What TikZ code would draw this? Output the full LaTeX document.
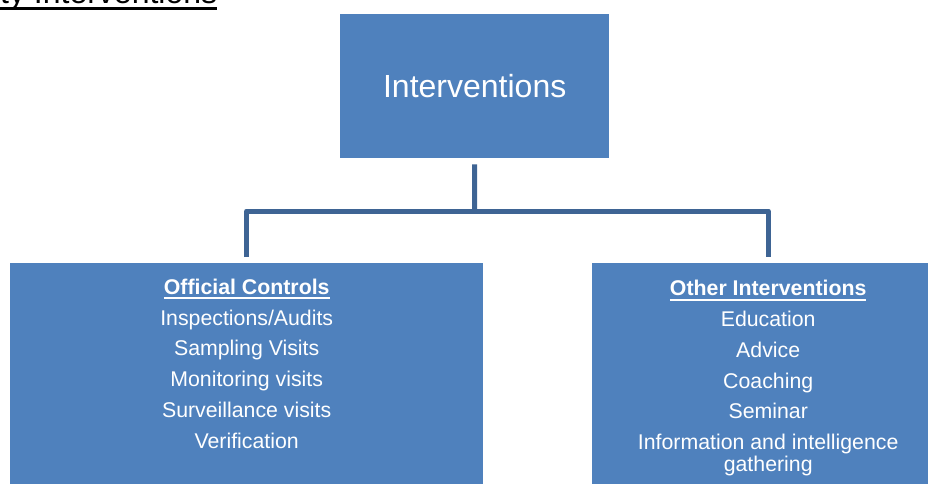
\documentclass[tikz,border=0pt]{standalone}
\usepackage{fontspec}
\setmainfont{Liberation Sans}
\definecolor{boxblue}{RGB}{79,129,189}
\definecolor{connblue}{RGB}{62,100,148}
\newcommand\hdul[1]{\setbox0\hbox{#1}\rlap{\rule[-5pt]{\wd0}{1.8pt}}\box0}
\tikzset{
  bluebox/.style={fill=boxblue, draw=none, inner sep=0pt, anchor=north west},
  boxtext/.style={text=white, inner sep=0pt, anchor=north, align=center,
    font=\fontsize{21.3pt}{30.8pt}\selectfont},
  conn/.style={draw=connblue, line width=5pt, line join=round, line cap=butt}
}
\begin{document}
\begin{tikzpicture}[x=1pt,y=-1pt]
\useasboundingbox (0,0) rectangle (928,483);
\clip (0,0) rectangle (928,483);
% title (cut off at the top)
\node[inner sep=0pt, anchor=base west, font=\fontsize{32pt}{38pt}\selectfont] (title) at (0,3.5) {ty Interventions};
\draw[line width=2.5pt] ([yshift=-5pt]title.base west) -- ([yshift=-5pt]title.base east);
% boxes
\node[bluebox, minimum width=269pt, minimum height=144pt] (top) at (340,14) {};
\node[text=white, inner sep=0pt, font=\fontsize{32pt}{38pt}\selectfont] (toptext) at (top.center) {Interventions};
\node[bluebox, minimum width=473pt, minimum height=230pt] (oc) at (10,263) {};
\node[bluebox, minimum width=352pt, minimum height=230pt] (oi) at (592,263) {};
\node[boxtext] (octext) at ([yshift=-15.6pt]oc.north) {\hdul{\textbf{Official Controls}}\\Inspections/Audits\\Sampling Visits\\Monitoring visits\\Surveillance visits\\Verification};
\node[boxtext] (oitext) at ([yshift=-17pt]oi.north) {\hdul{\textbf{Other Interventions}}\\Education\\Advice\\Coaching\\Seminar\\Information and intelligence\\[-9.3pt]gathering};
% connectors
\coordinate (mid) at (474.5,211);
\draw[conn] ([yshift=-6pt]top.south) -- (mid);
\draw[conn] ([yshift=6pt]oc.north) |- (mid) -| ([yshift=6pt]oi.north);
\end{tikzpicture}
\end{document}
